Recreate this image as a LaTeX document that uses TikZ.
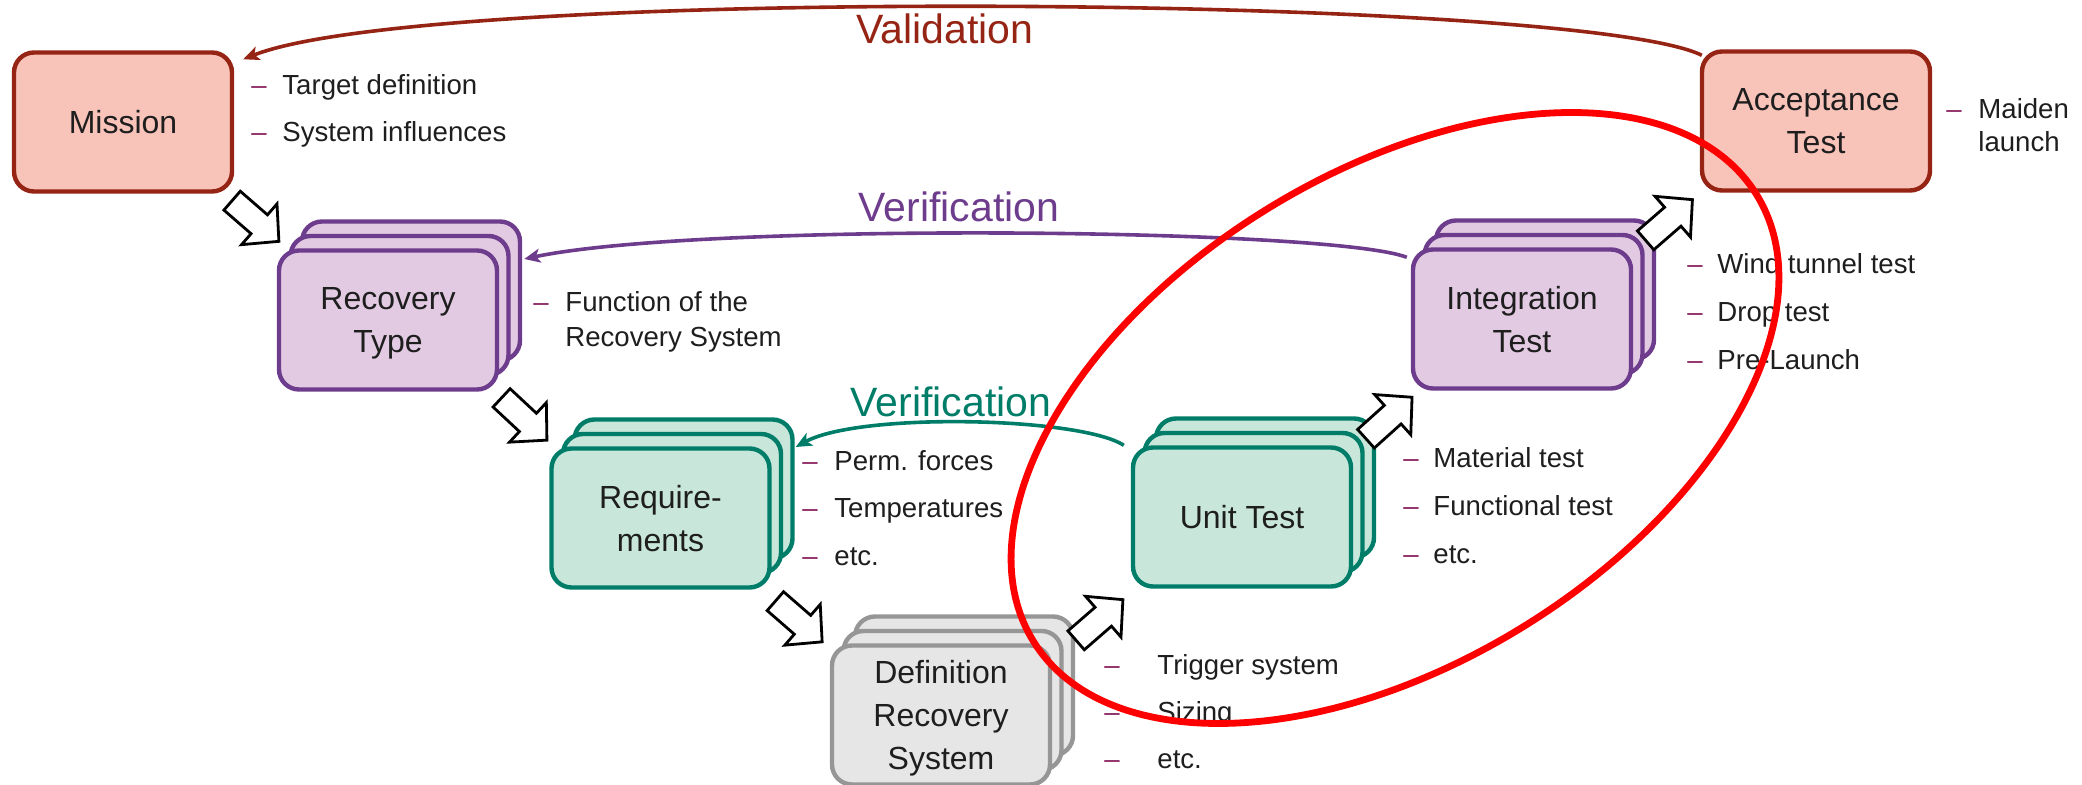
\documentclass[tikz,border=0pt]{standalone}
\usepackage{fontspec}
\setmainfont{Liberation Sans}
\usetikzlibrary{arrows.meta,calc}
\definecolor{redfill}{HTML}{F8C3B9}
\definecolor{redline}{HTML}{962414}
\definecolor{purfill}{HTML}{E2CBE2}
\definecolor{purline}{HTML}{6E3C8C}
\definecolor{grnfill}{HTML}{C8E6DA}
\definecolor{grnline}{HTML}{007D69}
\definecolor{gryfill}{HTML}{E6E6E6}
\definecolor{gryline}{HTML}{969696}
\definecolor{dashc}{HTML}{8E2A66}
\definecolor{txt}{HTML}{1E1E1E}
\begin{document}
\begin{tikzpicture}[x=0.5pt,y=-0.5pt,
 box/.style={draw, rounded corners=10pt, minimum width=109pt, minimum height=69.5pt,
   line width=2.2pt, align=center, inner sep=0pt, text=txt, text depth=0pt,
   font=\fontsize{16pt}{21.5pt}\selectfont},
 redbox/.style={box, fill=redfill, draw=redline},
 purbox/.style={box, fill=purfill, draw=purline},
 grnbox/.style={box, fill=grnfill, draw=grnline},
 grybox/.style={box, fill=gryfill, draw=gryline},
 btxt/.style={anchor=base west, inner sep=0pt, text=txt, font=\fontsize{13.8pt}{16pt}\selectfont},
 bdash/.style={btxt, text=dashc},
 lbl/.style={anchor=base, inner sep=0pt, font=\fontsize{20.5pt}{24pt}\selectfont},
 conn/.style={line width=1.8pt, -{Stealth[length=8pt,width=7pt,inset=2pt]}},
 barrow/.pic={\draw[line width=1.4pt, fill=white, draw=black, line join=miter]
   (-31,-12.5) -- (5,-12.5) -- (5,-27) -- (31,0) -- (5,27) -- (5,12.5) -- (-31,12.5) -- cycle;}
]
\useasboundingbox (0,0) rectangle (2082,785);

% Mission
\node[redbox] (mission) at (123,122) {Mission};
% Recovery Type stack
\node[purbox] (rec3) at (411,291) {};
\node[purbox] (rec2) at (399.5,305.5) {};
\node[purbox] (rec) at (388,320) {Recovery\\Type};
% Requirements stack
\node[grnbox] (req3) at (683.5,489) {};
\node[grnbox] (req2) at (672,503.5) {};
\node[grnbox] (req) at (660.5,518) {Require-\\ments};
% Definition Recovery System stack
\node[grybox] (drs3) at (964,686) {};
\node[grybox] (drs2) at (952.5,700.5) {};
\node[grybox] (drs) at (941,715) {Definition\\Recovery\\System};
% Unit Test stack
\node[grnbox] (unit3) at (1265,488) {};
\node[grnbox] (unit2) at (1253.5,502.5) {};
\node[grnbox] (unit) at (1242,517) {Unit Test};
% Integration Test stack
\node[purbox] (int3) at (1545,290) {};
\node[purbox] (int2) at (1533.5,304.5) {};
\node[purbox] (int) at (1522,319) {Integration\\Test};
% Acceptance Test
\node[redbox, minimum width=114pt] (acc) at (1816,121) {Acceptance\\Test};

% bullets
\node[bdash] (md1) at (251,95) {–};
\node[btxt] (mt1) at (282,95) {Target definition};
\node[bdash] (md2) at (251,142) {–};
\node[btxt] (mt2) at (282,142) {System influences};

\node[bdash] (rd1) at (533,312) {–};
\node[btxt] (rt1) at (565,312) {Function of the};
\node[btxt] (rt1b) at (565,347) {Recovery System};

\node[bdash] (qd1) at (802,471) {–};
\node[btxt] (qt1) at (834,471) {Perm. forces};
\node[bdash] (qd2) at (802,518) {–};
\node[btxt] (qt2) at (834,518) {Temperatures};
\node[bdash] (qd3) at (802,566) {–};
\node[btxt] (qt3) at (834,566) {etc.};

\node[bdash] (dd1) at (1104,674) {–};
\node[btxt] (dt1) at (1157,674) {Trigger system};
\node[bdash] (dd2) at (1104,721) {–};
\node[btxt] (dt2) at (1157,721) {Sizing};
\node[bdash] (dd3) at (1104,768) {–};
\node[btxt] (dt3) at (1157,768) {etc.};

\node[bdash] (ud1) at (1403,468) {–};
\node[btxt] (ut1) at (1433,468) {Material test};
\node[bdash] (ud2) at (1403,516) {–};
\node[btxt] (ut2) at (1433,516) {Functional test};
\node[bdash] (ud3) at (1403,564) {–};
\node[btxt] (ut3) at (1433,564) {etc.};

\node[bdash] (id1) at (1687,274) {–};
\node[btxt] (it1) at (1717,274) {Wind tunnel test};
\node[bdash] (id2) at (1687,322) {–};
\node[btxt] (it2) at (1717,322) {Drop test};
\node[bdash] (id3) at (1687,370) {–};
\node[btxt] (it3) at (1717,370) {Pre-Launch};

\node[bdash] (ad1) at (1946,119) {–};
\node[btxt] (at1) at (1978,119) {Maiden};
\node[btxt] (at1b) at (1978,152) {launch};

% labels
\node[lbl, text=redline] (val) at (945,44) {Validation};
\node[lbl, text=purline] (ver1) at (959,222) {Verification};
\node[lbl, text=grnline] (ver2) at (951,417) {Verification};

% feedback connectors
\draw[conn, draw=redline] ($(acc.north west)+(2,6)$) .. controls (1580,-5) and (430,-15) .. ($(mission.north east)+(9,9)$);
\draw[conn, draw=purline] ($(int.north west)+(-4,10)$) .. controls (1330,228) and (700,222) .. ($(rec3.east)+(2,-32)$);
\draw[conn, draw=grnline] ($(unit.north west)+(-7,0)$) .. controls (1080,417) and (860,412) .. ($(req3.east)+(1,-42)$);

% block arrows
\pic[rotate=-41] at ($(mission)!0.5!(rec)$) {barrow};
\pic[rotate=-43] at ($(rec)!0.5!(req)$) {barrow};
\pic[rotate=-41] at ($(req)!0.5!(drs)+(-2,5)$) {barrow};
\pic[rotate=41] at ($(drs)!0.5!(unit)+(8,4)$) {barrow};
\pic[rotate=42] at ($(unit)!0.5!(int)+(7,0)$) {barrow};
\pic[rotate=41] at ($(int)!0.5!(acc)$) {barrow};

% red ellipse
\coordinate (ec) at (1395,418);
\draw[red, line width=3.4pt, rotate around={31.7:(ec)}] (ec) ellipse [x radius=212.5pt, y radius=122.5pt];
\end{tikzpicture}
\end{document}
